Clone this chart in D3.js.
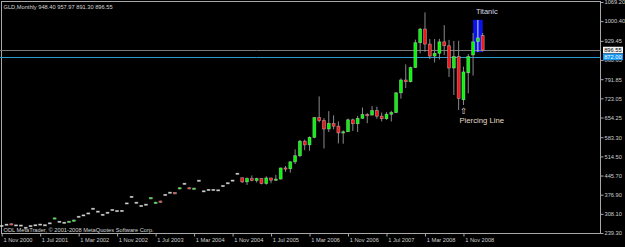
<!DOCTYPE html>
<html>
<head>
<meta charset="utf-8">
<script src="https://cdn.jsdelivr.net/npm/d3@7"></script>
<style>
  html, body { margin: 0; padding: 0; background: #000; }
  svg { display: block; font-family: 'Liberation Sans', Arial, sans-serif; }
</style>
</head>
<body>
<svg id="chart" width="625" height="247"></svg>
<script>
// monthly bars, Nov 2000 .. Mar 2009 (bars before 2005 are almost flat in this history)
const months = d3.timeMonths(new Date(2000, 10, 1), new Date(2009, 3, 1));

const open = [
  264.5, 269.1, 272.5, 266.5, 266.0, 258.0, 264.0, 267.0, 269.5, 267.0, 274.0, 290.5,
  279.5, 276.0, 278.5, 281.5, 297.5, 302.5, 309.5, 326.3, 316.0, 304.5, 312.0, 322.0,
  318.0, 318.5, 345.5, 369.0, 348.0, 336.3, 341.0, 362.0, 345.5, 354.0, 376.0, 384.0,
  384.5, 397.5, 416.0, 402.0, 396.5, 427.0, 389.0, 394.0, 394.0, 392.5, 408.0, 418.0,
  427.5, 452.0, 438.0, 423.0, 435.0, 428.0, 435.0, 417.0, 437.0, 429.0, 433.0, 473.0,
  470.0, 495.0, 517.0, 569.0, 556.0, 583.0, 654.0, 643.0, 613.0, 633.0, 623.0, 599.0,
  603.0, 646.0, 632.0, 651.0, 665.0, 663.0, 679.0, 659.0, 650.0, 666.0, 672.0, 743.0,
  789.0, 783.0, 834.0, 923.0, 972.0, 918.0, 875.0, 885.0, 926.0, 912.0, 832.0, 873.0,
  718.0, 815.0, 879.0, 927.0, 948.40
];
const close = [
  264.5, 269.1, 268.5, 266.5, 266.0, 258.0, 264.0, 267.0, 269.5, 267.0, 274.0, 293.5,
  279.5, 276.0, 281.5, 286.0, 297.5, 302.5, 309.5, 326.3, 316.0, 304.5, 312.0, 322.0,
  318.0, 318.5, 345.5, 369.0, 348.0, 336.3, 341.0, 366.5, 350.0, 349.5, 376.0, 384.0,
  380.0, 402.0, 416.0, 398.0, 400.5, 427.0, 389.0, 394.0, 394.0, 392.5, 408.0, 418.0,
  427.5, 452.0, 423.0, 435.0, 428.0, 435.0, 417.0, 437.0, 429.0, 433.0, 473.0, 470.0,
  495.0, 517.0, 569.0, 556.0, 583.0, 654.0, 643.0, 613.0, 633.0, 623.0, 599.0, 603.0,
  646.0, 632.0, 651.0, 665.0, 663.0, 679.0, 659.0, 650.0, 666.0, 672.0, 743.0, 789.0,
  783.0, 834.0, 923.0, 972.0, 918.0, 875.0, 885.0, 926.0, 912.0, 832.0, 873.0, 723.0,
  818.0, 873.0, 926.0, 940.0, 896.55
];
const high = [
  266.0, 270.6, 274.0, 268.0, 267.5, 259.5, 265.5, 268.5, 271.0, 268.5, 275.5, 295.0,
  281.0, 277.5, 283.0, 287.5, 299.0, 304.0, 311.0, 327.8, 317.5, 306.0, 313.5, 323.5,
  319.5, 320.0, 347.0, 370.5, 349.5, 337.8, 342.5, 368.0, 351.5, 355.5, 377.5, 385.5,
  386.0, 403.5, 417.5, 403.5, 402.0, 428.5, 390.5, 395.5, 395.5, 394.0, 409.5, 419.5,
  429.0, 453.5, 438.0, 439.0, 446.0, 438.0, 435.0, 443.0, 438.0, 448.0, 474.0, 480.0,
  497.0, 540.0, 574.0, 575.0, 586.0, 655.0, 730.0, 652.0, 677.0, 662.0, 640.0, 608.0,
  650.0, 650.0, 660.0, 690.0, 670.0, 695.0, 693.0, 672.0, 673.0, 678.0, 745.0, 795.0,
  845.0, 837.0, 934.0, 976.0, 1032.0, 936.0, 936.0, 937.0, 986.0, 933.0, 929.0, 930.0,
  837.0, 882.0, 958.0, 1005.0, 957.97
];
const low = [
  263.0, 267.6, 267.0, 265.0, 264.5, 256.5, 262.5, 265.5, 268.0, 265.5, 272.5, 289.0,
  278.0, 274.5, 277.0, 280.0, 296.0, 301.0, 308.0, 324.8, 314.5, 303.0, 310.5, 320.5,
  316.5, 317.0, 344.0, 367.5, 346.5, 334.8, 339.5, 360.5, 344.0, 348.0, 374.5, 382.5,
  378.5, 396.0, 414.5, 396.5, 395.0, 425.5, 387.5, 392.5, 392.5, 391.0, 406.5, 416.5,
  426.0, 450.5, 419.0, 412.0, 425.0, 421.0, 414.0, 413.0, 418.0, 426.0, 432.0, 459.0,
  456.0, 487.0, 512.0, 537.0, 535.0, 580.0, 637.0, 543.0, 602.0, 612.0, 561.0, 560.0,
  603.0, 606.0, 602.0, 650.0, 634.0, 662.0, 650.0, 640.0, 646.0, 640.0, 670.0, 722.0,
  760.0, 780.0, 832.0, 885.0, 890.0, 864.0, 852.0, 863.0, 879.0, 800.0, 735.0, 681.0,
  699.0, 741.0, 805.0, 890.0, 891.30
];

const priceTicks = [1069.20, 1000.40, 929.45, 860.65, 791.85, 723.05, 654.25,
  583.30, 514.50, 445.70, 376.90, 308.10, 239.30];
const bidPrice = 896.55;
const levelPrice = 872.00;

const header = 'GLD,Monthly  948.40 957.97 891.30 896.55';
const copyright = 'ODL MetaTrader, \u00a9 2001-2008 MetaQuotes Software Corp.';

// annotations: bar index and price anchors
const titanicBox = { from: 98, to: 100, top: 1005, bottom: 889 };
const titanicLabel = { at: 99, price: 1027, text: 'Titanic' };
const piercingArrow = { at: 96, price: 668 };
const piercingLabel = { at: 95.8, price: 636, text: 'Piercing Line' };

const W = 625, H = 247;
const plot = { left: 1.5, top: 1.5, right: 600.5, bottom: 233.5 };

const svg = d3.select('#chart');
svg.append('rect').attr('width', W).attr('height', H).attr('fill', '#000');

const idx = d3.range(months.length);
const x = d3.scaleLinear().domain([0, months.length - 1]).range([1.7, 482.7]);
const y = d3.scaleLinear().domain([239.30, 1069.20]).range([233, 2]);

// frame
svg.append('rect')
  .attr('x', plot.left).attr('y', plot.top)
  .attr('width', plot.right - plot.left).attr('height', plot.bottom - plot.top)
  .attr('fill', 'none').attr('stroke', '#a8a8a8').attr('stroke-width', 1);

// titanic box (background object)
svg.append('rect')
  .attr('x', x(titanicBox.from)).attr('y', y(titanicBox.top))
  .attr('width', x(titanicBox.to) - x(titanicBox.from))
  .attr('height', y(titanicBox.bottom) - y(titanicBox.top))
  .attr('fill', '#0a14e6');

// level lines
svg.append('line')
  .attr('x1', 0).attr('x2', plot.right)
  .attr('y1', Math.round(y(bidPrice)) + 0.5).attr('y2', Math.round(y(bidPrice)) + 0.5)
  .attr('stroke', '#7a7a7a');
svg.append('line')
  .attr('x1', 0).attr('x2', plot.right)
  .attr('y1', Math.round(y(levelPrice)) + 0.5).attr('y2', Math.round(y(levelPrice)) + 0.5)
  .attr('stroke', '#2a9ad0');

// candles
const bodyColor = i => {
  if (Math.abs(close[i] - open[i]) < 0.5) return '#cfcfcf';
  return close[i] > open[i] ? '#00f800' : '#f01818';
};
const candles = svg.append('g').selectAll('g').data(idx).join('g');
candles.append('line')
  .attr('x1', i => x(i)).attr('x2', i => x(i))
  .attr('y1', i => y(high[i])).attr('y2', i => y(low[i]))
  .attr('stroke', i => i === 99 ? '#d8d8f0' : '#8a8a8a').attr('stroke-width', 1);
candles.append('rect')
  .attr('x', i => x(i) - 1.5)
  .attr('width', 3)
  .attr('y', i => y(Math.max(open[i], close[i])) - (Math.abs(close[i] - open[i]) < 2 ? 0.6 : 0))
  .attr('height', i => Math.max(1.2, Math.abs(y(open[i]) - y(close[i]))))
  .attr('fill', bodyColor)
  .attr('stroke', 'rgba(230,230,230,0.5)').attr('stroke-width', 0.7);

// price axis
const yAxis = svg.append('g')
  .attr('transform', `translate(${plot.right},0)`)
  .call(d3.axisRight(y).tickValues(priceTicks).tickSize(3).tickPadding(1)
    .tickFormat(d => d.toFixed(2)));
yAxis.select('.domain').remove();
yAxis.selectAll('line').attr('stroke', '#a8a8a8');
yAxis.selectAll('text').attr('fill', '#cfcfcf').attr('font-size', '5.7px')
  .attr('font-family', "'Liberation Sans', Arial, sans-serif");

// price labels for the two lines
function priceTag(p, bg, fg) {
  const g = svg.append('g').attr('transform', `translate(${plot.right + 2.5},${y(p)})`);
  g.append('rect').attr('x', 0).attr('y', -3.3).attr('width', 20).attr('height', 6.6).attr('fill', bg);
  g.append('text').attr('x', 1.2).attr('dy', '0.34em').attr('fill', fg)
    .attr('font-size', '5.7px').text(p.toFixed(2));
}
priceTag(bidPrice, '#f4f4f4', '#000');
priceTag(levelPrice, '#1496f0', '#fff');

// time axis
const tickIdx = idx.filter(i => i % 8 === 0);
const fmt = d3.timeFormat('%-d %b %Y');
const xAxis = svg.append('g')
  .attr('transform', `translate(0,${plot.bottom})`)
  .call(d3.axisBottom(x).tickValues(tickIdx).tickSize(3).tickFormat(i => fmt(months[i])));
xAxis.select('.domain').remove();
xAxis.selectAll('line').attr('stroke', '#a8a8a8');
xAxis.selectAll('text').attr('fill', '#cfcfcf').attr('font-size', '5.7px')
  .attr('font-family', "'Liberation Sans', Arial, sans-serif")
  .attr('text-anchor', 'start').attr('dx', 1.2).attr('y', 3).attr('dy', '0.95em');

// texts
svg.append('text').attr('x', 3.5).attr('y', 8.6).attr('fill', '#d6d6d6')
  .attr('font-size', '5.7px').text(header);
svg.append('text').attr('x', 3.5).attr('y', 232).attr('fill', '#d6d6d6')
  .attr('font-size', '5.7px').text(copyright);

svg.append('text').attr('x', x(titanicLabel.at) - 2).attr('y', y(titanicLabel.price))
  .attr('fill', '#d4dae4').attr('font-size', '7.5px').text(titanicLabel.text);
svg.append('text').attr('x', x(piercingArrow.at)).attr('y', y(piercingArrow.price))
  .attr('text-anchor', 'middle').attr('fill', '#e6dcc8')
  .attr('font-family', "'DejaVu Sans', sans-serif").attr('font-size', '8.5px').text('\u21e7');
svg.append('text').attr('x', x(piercingLabel.at) - 3).attr('y', y(piercingLabel.price))
  .attr('fill', '#e6dcc8').attr('font-size', '7.7px').text(piercingLabel.text);
</script>
</body>
</html>
